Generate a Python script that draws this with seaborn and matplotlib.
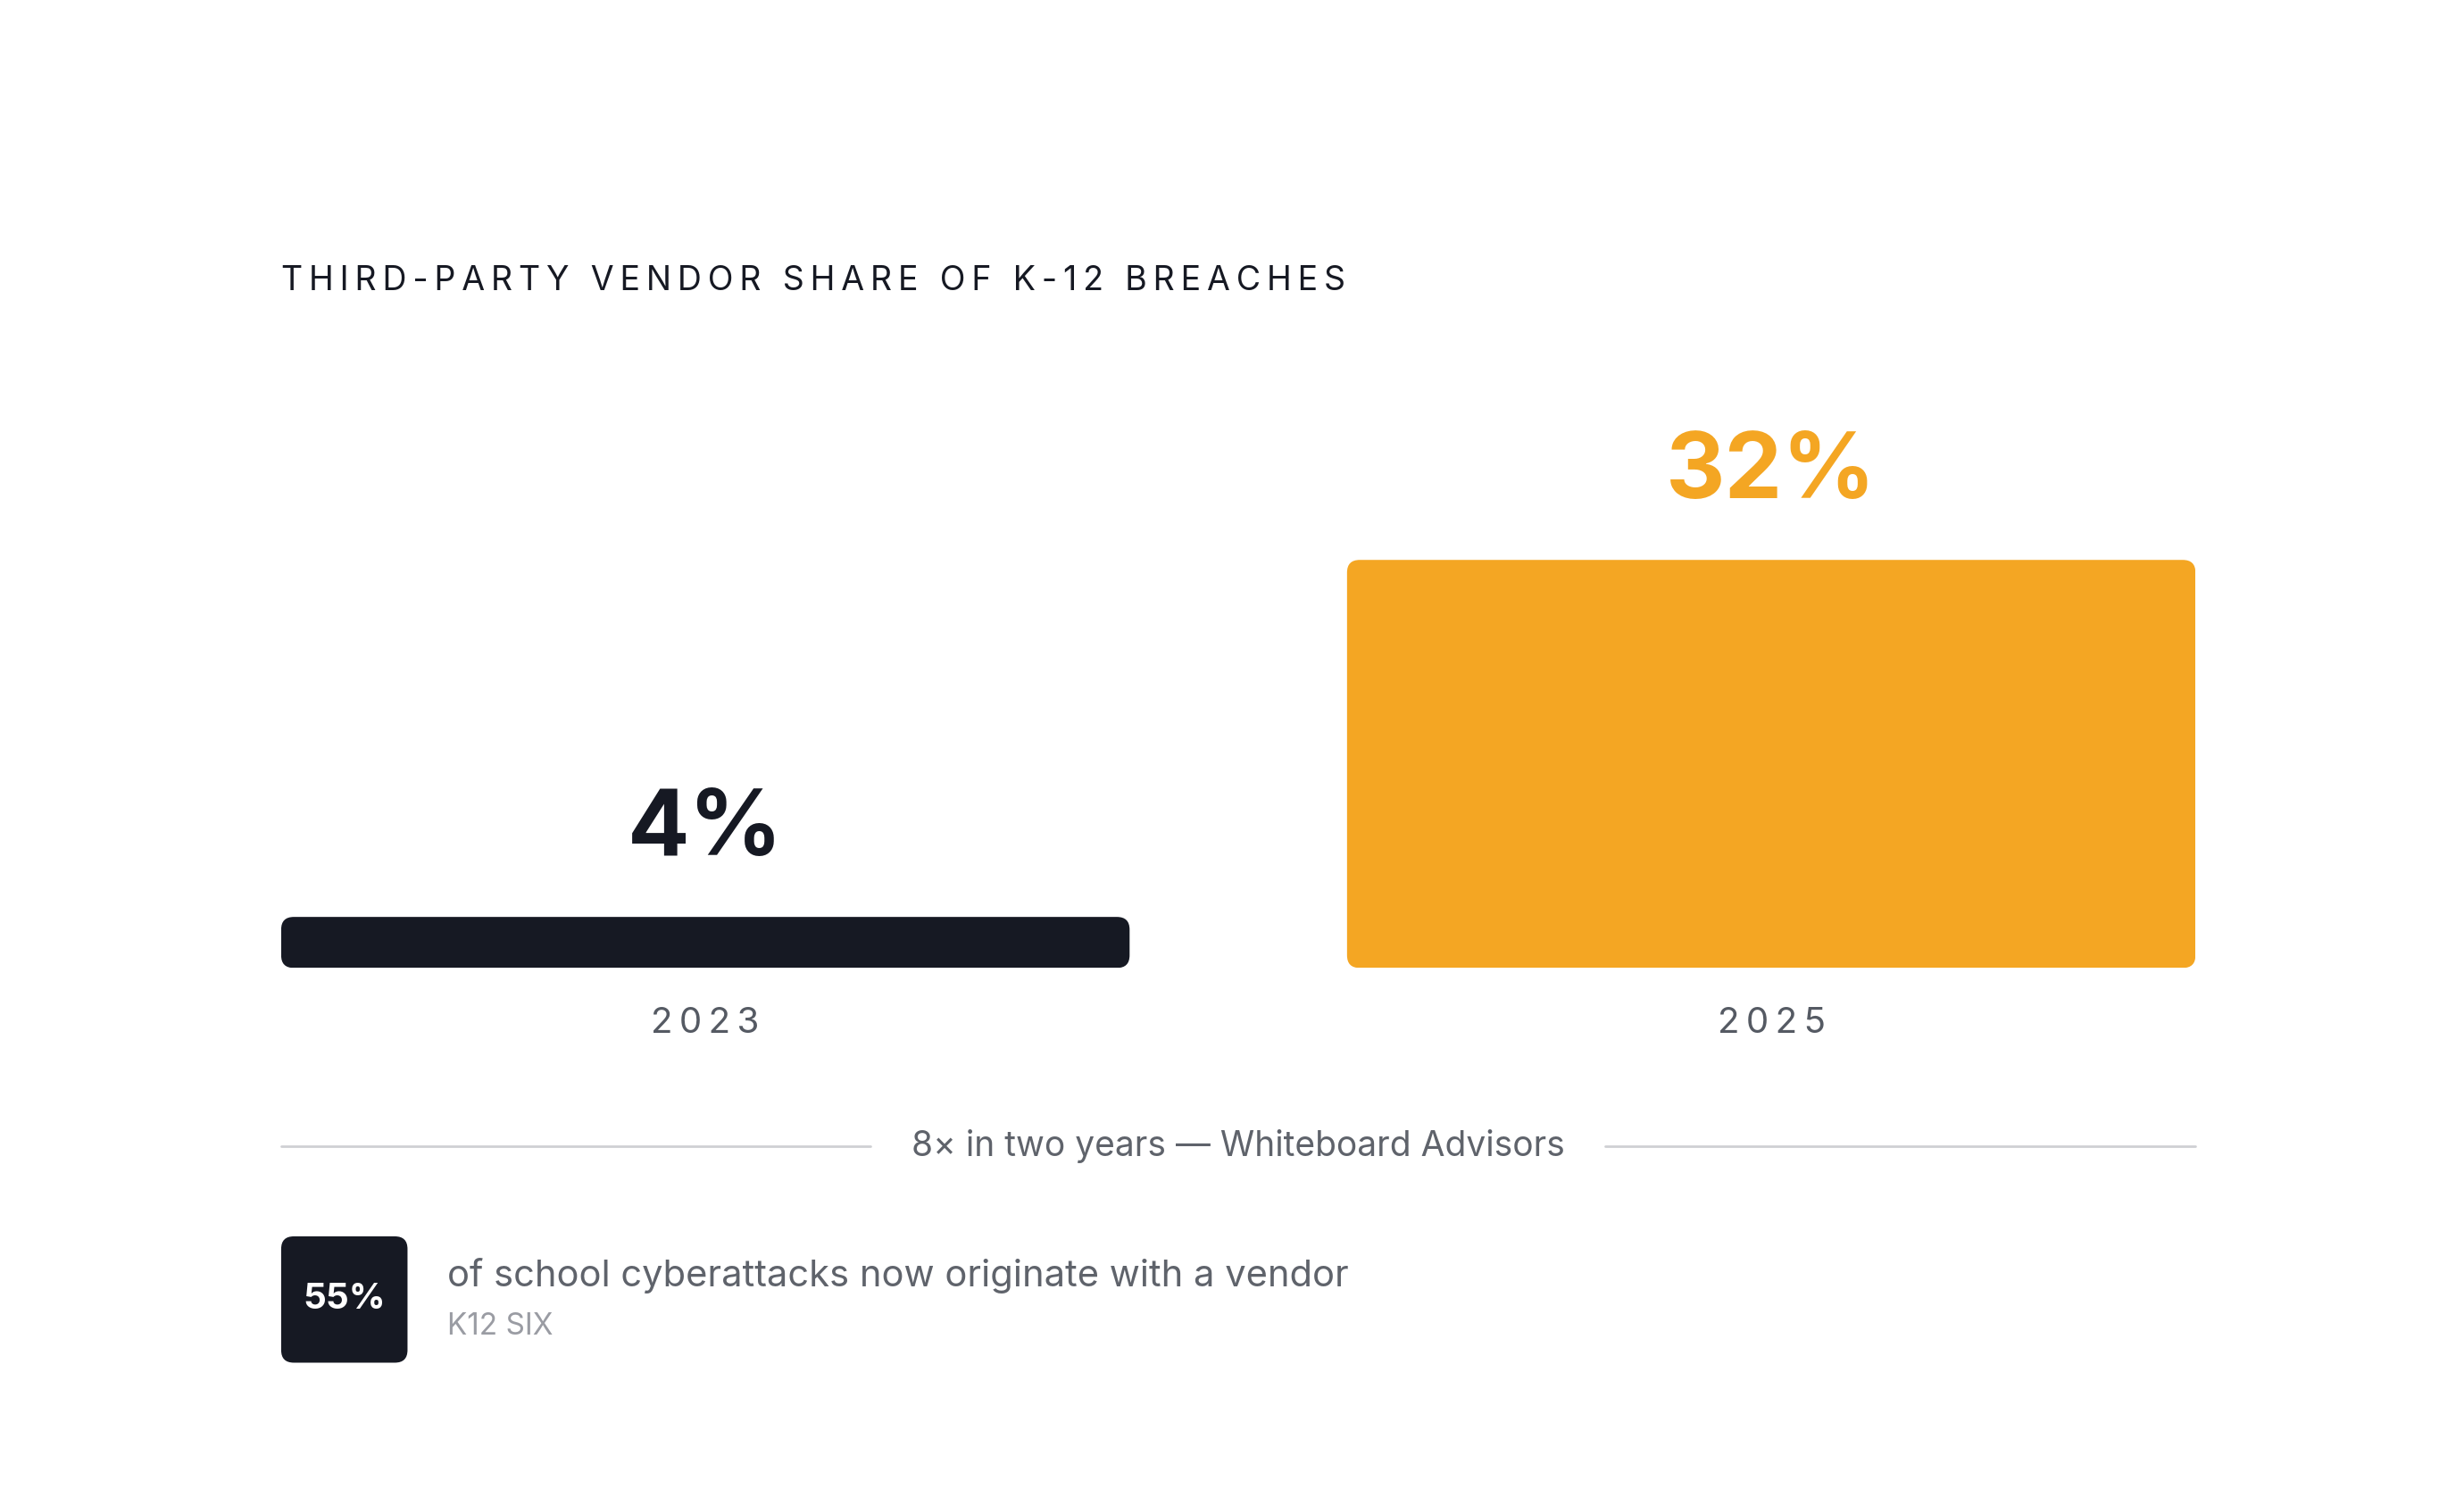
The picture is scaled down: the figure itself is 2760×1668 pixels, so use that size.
import matplotlib
matplotlib.use("Agg")
import matplotlib.pyplot as plt
from matplotlib.patches import FancyBboxPatch
import pandas as pd
import seaborn as sns

years = ["2023", "2025"]
shares = [4, 32]
bar_colors = ["#161923", "#F4A623"]
title = "THIRD-PARTY VENDOR SHARE OF K-12 BREACHES"
divider_note = "8× in two years — Whiteboard Advisors"
callout_value = "55%"
callout_text = "of school cyberattacks now originate with a vendor"
callout_source = "K12 SIX"

sns.set_theme(style="white")
plt.rcParams["font.family"] = ["Inter", "DejaVu Sans"]

W, H = 1560, 943  # layout units (reference scaled)
def fx(x): return x / W
def fy(y): return 1 - y / H

def spaced(s, sep="\u2009"):
    return sep.join(s)

fig = plt.figure(figsize=(27.6, 16.68), dpi=100)
fig.patch.set_facecolor("white")
ax = fig.add_axes([fx(178), fy(613), fx(1390) - fx(178), fy(290) - fy(613)])

df = pd.DataFrame({"year": years, "share": shares})
sns.barplot(data=df, x="year", y="share", hue="year", palette=bar_colors,
            width=0.796, legend=False, ax=ax)
ax.set_xlim(-0.398, 1.398)
ax.set_ylim(0, 40)
ax.axis("off")

# rounded bars
px_x = 1.796 / 1212
px_y = 40 / 323
for p, c in zip(list(ax.patches), bar_colors):
    x0, w, h = p.get_x(), p.get_width(), p.get_height()
    p.remove()
    ax.add_patch(FancyBboxPatch((x0, 0), w, h,
                                boxstyle=f"round,pad=0,rounding_size={8 * px_x}",
                                mutation_aspect=px_y / px_x, fc=c, ec="none"))

for i, (v, c) in enumerate(zip(shares, bar_colors)):
    ax.text(i, v + 27 * px_y, f"{v}%", ha="center", va="bottom",
            fontsize=74, fontweight="bold", color=c)
    ax.text(i, -35 * px_y, spaced(years[i]), ha="center", va="center",
            fontsize=29, color="#555a63")

fig.text(fx(178), fy(178), spaced(title), ha="left", va="center",
         fontsize=27, color="#161923")

# divider
fig.add_artist(plt.Line2D([fx(178), fx(551)], [fy(726), fy(726)], color="#cfd0d4", lw=2))
fig.add_artist(plt.Line2D([fx(1016), fx(1390)], [fy(726), fy(726)], color="#cfd0d4", lw=2))
fig.text(fx(784), fy(726), divider_note, ha="center", va="center",
         fontsize=28, color="#5f636b")

# callout
fig.add_artist(FancyBboxPatch((fx(178), fy(863)), fx(258) - fx(178), fy(783) - fy(863),
                              boxstyle=f"round,pad=0,rounding_size={fx(8)}",
                              mutation_aspect=W / H, fc="#161923", ec="none",
                              transform=fig.transFigure))
fig.text(fx(218), fy(823), callout_value, ha="center", va="center",
         fontsize=29, fontweight="bold", color="white")
fig.text(fx(283), fy(808), callout_text, ha="left", va="center",
         fontsize=30, color="#5f636b")
fig.text(fx(283), fy(840), callout_source, ha="left", va="center",
         fontsize=24, color="#9a9ca3")

fig.savefig("out.png", dpi=100, facecolor="white")
